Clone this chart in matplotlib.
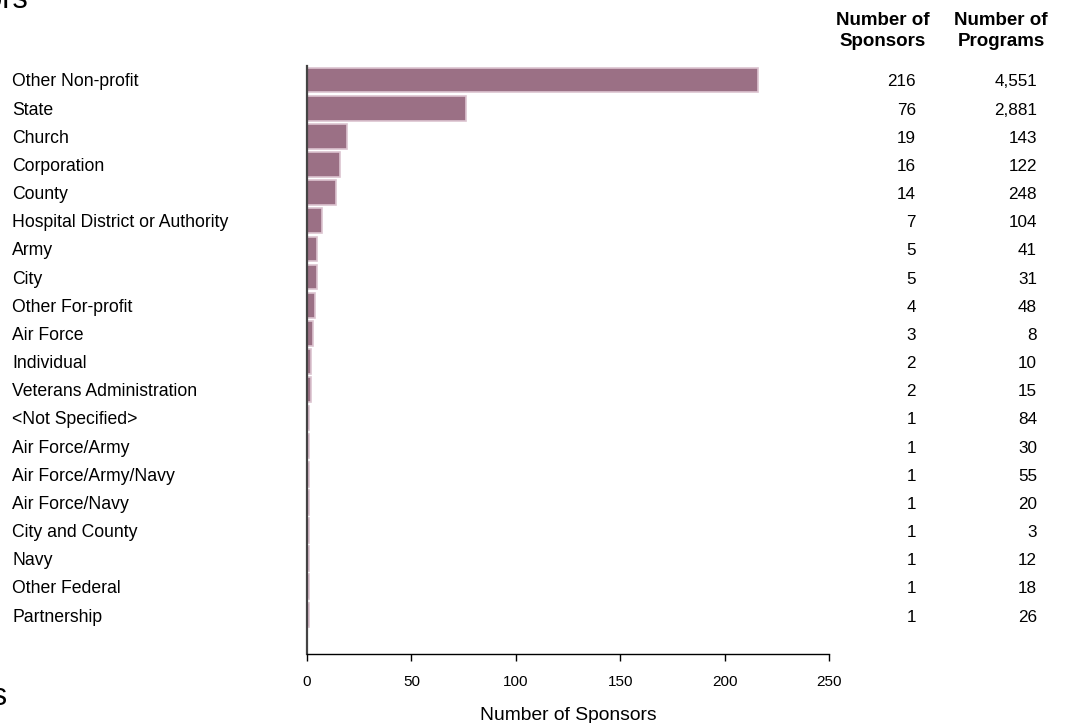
import matplotlib
matplotlib.use('Agg')
import matplotlib.pyplot as plt
import numpy as np

categories = ['Other Non-profit', 'State', 'Church', 'Corporation', 'County',
              'Hospital District or Authority', 'Army', 'City', 'Other For-profit',
              'Air Force', 'Individual', 'Veterans Administration', '<Not Specified>',
              'Air Force/Army', 'Air Force/Army/Navy', 'Air Force/Navy',
              'City and County', 'Navy', 'Other Federal', 'Partnership']
sponsors = [216, 76, 19, 16, 14, 7, 5, 5, 4, 3, 2, 2, 1, 1, 1, 1, 1, 1, 1, 1]
programs = [4551, 2881, 143, 122, 248, 104, 41, 31, 48, 8, 10, 15, 84, 30, 55,
            20, 3, 12, 18, 26]
xticks = [0, 50, 100, 150, 200, 250]

plt.rcParams['font.family'] = ['Liberation Sans', 'DejaVu Sans']

W, H = 1072, 723
fig = plt.figure(figsize=(W / 100, H / 100), dpi=100)

# axes in pixel coordinates: left 307, right 829, top 66, bottom 654
ax = fig.add_axes([307 / W, 1 - 654 / H, (829 - 307) / W, (654 - 66) / H])
n = len(categories)
y = np.arange(n)
ax.barh(y, sponsors, height=0.88, color='#9b7085', edgecolor='#dcc4d0', linewidth=1.2)
ax.set_ylim(20.385, -0.497)
ax.set_xlim(0, 250)
ax.set_xticks(xticks)
ax.set_yticks([])
for s in ['top', 'right']:
    ax.spines[s].set_visible(False)
ax.spines['left'].set_color('#444444')
ax.spines['left'].set_linewidth(1.6)
ax.spines['bottom'].set_linewidth(1.0)
ax.tick_params(axis='x', length=5, width=1, labelsize=11, pad=10)
ax.set_xlabel('Number of Sponsors', fontsize=13.9, labelpad=13)

# category labels and number columns, one per row
for i, name in enumerate(categories):
    ax.annotate(name, xy=(0, i), xycoords=('axes fraction', 'data'),
                xytext=(12 - 307, -2), textcoords='offset pixels',
                ha='left', va='center', fontsize=12.7)
    ax.annotate(f'{sponsors[i]:,}', xy=(0, i), xycoords=('axes fraction', 'data'),
                xytext=(916 - 307, -2), textcoords='offset pixels',
                ha='right', va='center', fontsize=12.3)
    ax.annotate(f'{programs[i]:,}', xy=(0, i), xycoords=('axes fraction', 'data'),
                xytext=(1037 - 307, -2), textcoords='offset pixels',
                ha='right', va='center', fontsize=12.3)

fig.text(883 / W, 1 - 31 / H, 'Number of\nSponsors', ha='center', va='center',
         fontsize=13.5, fontweight='bold', linespacing=1.32)
fig.text(1001 / W, 1 - 31 / H, 'Number of\nPrograms', ha='center', va='center',
         fontsize=13.5, fontweight='bold', linespacing=1.32)

# cropped title fragments from the original page
fig.text(28 / W, 1 - 8 / H, 'Sponsors', ha='right', va='baseline', fontsize=22)
fig.text(8 / W, 1 - 705 / H, 'Programs', ha='right', va='baseline', fontsize=22)

fig.savefig('out.png', dpi=100)
